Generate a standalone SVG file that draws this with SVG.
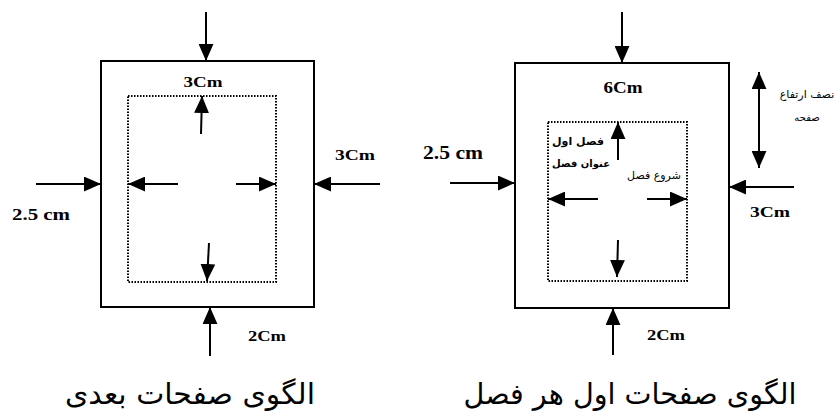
<svg xmlns="http://www.w3.org/2000/svg" width="834" height="416" viewBox="0 0 834 416">
<style>
.page{fill:none;stroke:#000;stroke-width:2}
.area{fill:none;stroke:#000;stroke-width:2;stroke-dasharray:1.5 1.5}
.arr{stroke:#000;stroke-width:2;fill:none;marker-end:url(#ah)}
.dbl{marker-start:url(#ah)}
.lbl{font-family:"Liberation Serif","Times New Roman",serif;font-weight:bold;fill:#000}
.ar{font-family:"DejaVu Sans",sans-serif;fill:#000}
.title{font-family:"DejaVu Sans",sans-serif;font-size:29px;fill:#000}
</style>
<defs>
<marker id="ah" viewBox="0 0 16 14" refX="16" refY="7" markerWidth="17" markerHeight="15" markerUnits="userSpaceOnUse" orient="auto-start-reverse">
<path d="M0,0 L16,7 L0,14 Z" fill="#000"/>
</marker>
</defs>
<rect width="834" height="416" fill="#fff"/>

<g id="left-page">
<rect class="page" x="101" y="61" width="213" height="246"/>
<rect class="area" x="128" y="96" width="148" height="186"/>
<text class="lbl" x="203" y="87" font-size="15" text-anchor="middle" textLength="39" lengthAdjust="spacingAndGlyphs">3Cm</text>
<text class="lbl" x="335" y="160" font-size="15" textLength="40" lengthAdjust="spacingAndGlyphs">3Cm</text>
<text class="lbl" x="12" y="220" font-size="16" textLength="58" lengthAdjust="spacingAndGlyphs">2.5 cm</text>
<text class="lbl" x="248" y="341" font-size="15" textLength="38" lengthAdjust="spacingAndGlyphs">2Cm</text>
<text class="title" x="190" y="404" text-anchor="middle" textLength="250" lengthAdjust="spacingAndGlyphs">الگوی صفحات بعدی</text>
</g>

<g id="right-page">
<rect class="page" x="515" y="63" width="214" height="245"/>
<rect class="area" x="548" y="122" width="139" height="159"/>
<text class="lbl" x="623" y="93" font-size="17" text-anchor="middle" textLength="39" lengthAdjust="spacingAndGlyphs">6Cm</text>
<text class="lbl" x="423" y="159" font-size="19" textLength="60" lengthAdjust="spacingAndGlyphs">2.5 cm</text>
<text class="lbl" x="750" y="217" font-size="15" textLength="40" lengthAdjust="spacingAndGlyphs">3Cm</text>
<text class="lbl" x="647" y="340" font-size="15" textLength="38" lengthAdjust="spacingAndGlyphs">2Cm</text>
<text class="ar" x="807" y="98" font-size="11" text-anchor="middle">نصف ارتفاع</text>
<text class="ar" x="807" y="121" font-size="10" text-anchor="middle">صفحه</text>
<text class="ar" x="578" y="145" font-size="11" font-weight="bold" text-anchor="middle">فصل اول</text>
<text class="ar" x="581" y="167" font-size="10" font-weight="bold" text-anchor="middle">عنوان فصل</text>
<text class="ar" x="654" y="179" font-size="11" text-anchor="middle">شروع فصل</text>
<text class="title" x="630" y="404" text-anchor="middle" textLength="333" lengthAdjust="spacingAndGlyphs">الگوی صفحات اول هر فصل</text>
</g>

<g id="connectors">
<line class="arr" x1="206" y1="12" x2="206" y2="61"/>
<line class="arr" x1="201" y1="134" x2="202" y2="96"/>
<line class="arr" x1="36" y1="184" x2="101" y2="184"/>
<line class="arr" x1="178" y1="184" x2="128" y2="184"/>
<line class="arr" x1="236" y1="184" x2="276" y2="184"/>
<line class="arr" x1="380" y1="184" x2="314" y2="184"/>
<line class="arr" x1="209" y1="243" x2="207" y2="281"/>
<line class="arr" x1="210" y1="356" x2="210" y2="307"/>

<line class="arr" x1="622" y1="12" x2="622" y2="63"/>
<line class="arr dbl" x1="759" y1="72" x2="759" y2="168"/>
<line class="arr" x1="618" y1="160" x2="618" y2="122"/>
<line class="arr" x1="450" y1="183" x2="515" y2="183"/>
<line class="arr" x1="794" y1="187" x2="729" y2="187"/>
<line class="arr" x1="598" y1="199" x2="548" y2="199"/>
<line class="arr" x1="647" y1="199" x2="687" y2="199"/>
<line class="arr" x1="618" y1="240" x2="617" y2="277"/>
<line class="arr" x1="613" y1="355" x2="613" y2="308"/>
</g>
</svg>
